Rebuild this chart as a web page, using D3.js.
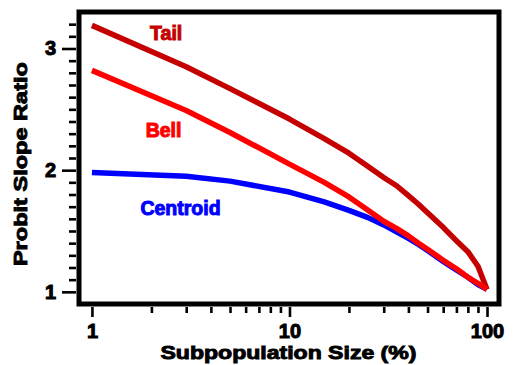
<!DOCTYPE html>
<html>
<head>
<meta charset="utf-8">
<script src="https://cdn.jsdelivr.net/npm/d3@7"></script>
<style>
  body { margin: 0; background: #fff; }
  text { font-family: "Liberation Sans", Arial, sans-serif; font-weight: bold; }
</style>
</head>
<body>
<div id="chart"></div>
<script>
// subpopulation sizes (%) where each curve was computed
const sizes = [1, 3, 5, 10, 15, 20, 25, 30, 35, 40, 45, 50, 60, 70, 80, 90, 100]

// probit slope ratio for each distribution shape
const tail     = [3.19, 2.85, 2.67, 2.42, 2.26, 2.14, 2.03, 1.94, 1.87, 1.79, 1.72, 1.65, 1.53, 1.42, 1.33, 1.21, 1.02]
const bell     = [2.82, 2.49, 2.31, 2.05, 1.90, 1.78, 1.67, 1.58, 1.52, 1.46, 1.40, 1.35, 1.26, 1.19, 1.12, 1.07, 1.02]
const centroid = [1.98, 1.95, 1.91, 1.82, 1.74, 1.67, 1.61, 1.55, 1.49, 1.44, 1.39, 1.34, 1.25, 1.18, 1.12, 1.06, 1.02]

const xTicks = [1, 10, 100]
const yTicks = [1, 2, 3]

const series = [
  {name: 'Tail', values: tail, color: '#c40000', lx: 1.97, ly: 3.07},
  {name: 'Centroid', values: centroid, color: '#0000ff', lx: 1.76, ly: 1.63},
  {name: 'Bell', values: bell, color: '#ff0000', lx: 1.87, ly: 2.27}
]

const W = 516, H = 365
const margin = {top: 12, right: 17, bottom: 61, left: 79}
const width = W - margin.left - margin.right,
  height = H - margin.top - margin.bottom

const svg = d3.select('#chart').append('svg')
  .attr('width', W)
  .attr('height', H)

const g = svg.append('g')
  .attr('transform', `translate(${margin.left},${margin.top})`)

const x = d3.scaleLog()
  .domain([0.86, 115])
  .range([0, width])

const y = d3.scaleLinear()
  .domain([0.9, 3.3])
  .range([height, 0])

// minor ticks
const xMinor = []
for (let d = 1; d < 100; d *= 10) for (let k = 2; k <= 9; k++) xMinor.push(d * k)
const yMinor = d3.range(11, 33).map(v => v / 10).filter(v => v % 1 !== 0)

function styleAxis(sel) {
  sel.select('.domain').remove()
  sel.selectAll('line').attr('stroke', '#000').attr('stroke-width', 2.6)
}

g.append('g')
  .attr('transform', `translate(0,${height + 3})`)
  .call(d3.axisBottom(x).tickValues(xMinor).tickSize(6).tickFormat(''))
  .call(styleAxis)

g.append('g')
  .attr('transform', `translate(0,${height + 3})`)
  .call(d3.axisBottom(x).tickValues(xTicks).tickSize(10).tickPadding(7).tickFormat(d3.format('d')))
  .call(styleAxis)
  .selectAll('text')
    .attr('fill', '#000')
    .attr('font-size', 20)
    .attr('stroke', '#000').attr('stroke-width', 1)

g.append('g')
  .attr('transform', 'translate(-3,0)')
  .call(d3.axisLeft(y).tickValues(yMinor).tickSize(7).tickFormat(''))
  .call(styleAxis)

g.append('g')
  .attr('transform', 'translate(-3,0)')
  .call(d3.axisLeft(y).tickValues(yTicks).tickSize(14).tickPadding(6).tickFormat(d3.format('d')))
  .call(styleAxis)
  .selectAll('text')
    .attr('fill', '#000')
    .attr('font-size', 20)
    .attr('stroke', '#000').attr('stroke-width', 1)

// curves
const line = d3.line()
  .x((d, i) => x(sizes[i]))
  .y(d => y(d))

g.selectAll('.curve')
  .data(series)
  .enter()
  .append('path')
    .attr('class', 'curve')
    .attr('d', d => line(d.values))
    .attr('fill', 'none')
    .attr('stroke', d => d.color)
    .attr('stroke-width', 5.5)
    .attr('stroke-linejoin', 'round')

g.selectAll('.label')
  .data(series)
  .enter()
  .append('text')
    .attr('class', 'label')
    .attr('x', d => x(d.lx))
    .attr('y', d => y(d.ly))
    .attr('fill', d => d.color)
    .attr('stroke', d => d.color)
    .attr('stroke-width', 1)
    .attr('font-size', 19.5)
    .text(d => d.name)

// frame
g.append('rect')
  .attr('width', width)
  .attr('height', height)
  .attr('fill', 'none')
  .attr('stroke', '#000')
  .attr('stroke-width', 5)

// axis titles
svg.append('text')
  .attr('x', margin.left + x(10) - 1)
  .attr('y', 359)
  .attr('text-anchor', 'middle')
  .attr('font-size', 18)
  .attr('stroke', '#000').attr('stroke-width', 0.9)
  .attr('textLength', 256)
  .attr('lengthAdjust', 'spacingAndGlyphs')
  .text('Subpopulation Size (%)')

svg.append('text')
  .attr('transform', `translate(27,${margin.top + y(2.05)}) rotate(-90)`)
  .attr('text-anchor', 'middle')
  .attr('font-size', 18)
  .attr('stroke', '#000').attr('stroke-width', 0.9)
  .attr('textLength', 204)
  .attr('lengthAdjust', 'spacingAndGlyphs')
  .text('Probit Slope Ratio')
</script>
</body>
</html>
